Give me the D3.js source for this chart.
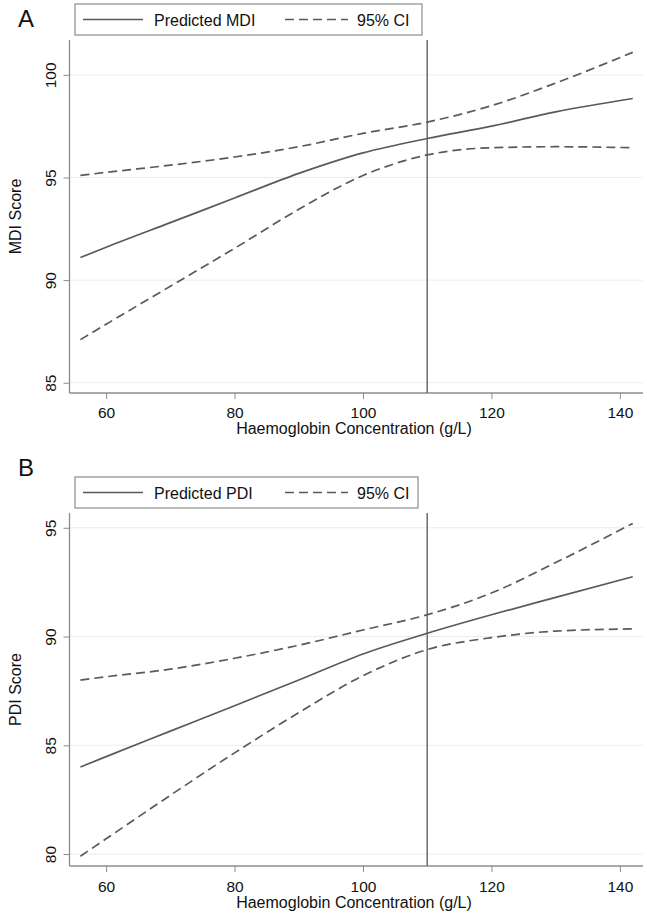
<!DOCTYPE html>
<html>
<head>
<meta charset="utf-8">
<script src="https://cdn.jsdelivr.net/npm/d3@7"></script>
<style>
  body { margin: 0; background: #fff; }
  svg { display: block; font-family: "Liberation Sans", Arial, Helvetica, sans-serif; }
</style>
</head>
<body>
<svg id="chart" width="647" height="915"></svg>
<script>
// ---- Data ----
const hb = [56, 60, 70, 80, 90, 100, 110, 120, 130, 142];

const mdiPred  = [91.1, 91.6, 92.8, 94.0, 95.2, 96.2, 96.9, 97.5, 98.2, 98.85];
const mdiUpper = [95.1, 95.25, 95.6, 96.0, 96.5, 97.15, 97.7, 98.5, 99.6, 101.1];
const mdiLower = [87.1, 87.85, 89.7, 91.55, 93.45, 95.1, 96.1, 96.45, 96.5, 96.45];

const pdiPred  = [84.0, 84.48, 85.65, 86.82, 88.0, 89.2, 90.15, 91.0, 91.8, 92.75];
const pdiUpper = [88.0, 88.15, 88.5, 89.0, 89.6, 90.3, 91.0, 92.0, 93.4, 95.2];
const pdiLower = [79.9, 80.7, 82.7, 84.65, 86.5, 88.2, 89.4, 89.95, 90.25, 90.35];

const xTicks = [60, 80, 100, 120, 140];
const mdiTicks = [85, 90, 95, 100];
const pdiTicks = [80, 85, 90, 95];
const cutoff = 110;

const xTitle = "Haemoglobin Concentration (g/L)";

// ---- Drawing ----
const svg = d3.select("#chart");
const lineColor = "#5a5a5a";
const axisColor = "#8c8c8c";
const tickFont = 15.5;
const labelFont = 16;

function panel(cfg) {
  const g = svg.append("g");
  const x = d3.scaleLinear().domain([54.3, 143.6]).range([69.5, 643]);
  const y = d3.scaleLinear().domain(cfg.yDomain).range([cfg.bottom, cfg.top]);

  // gridlines
  g.selectAll("line.grid").data(cfg.yTicks).join("line")
    .attr("x1", x.range()[0]).attr("x2", x.range()[1])
    .attr("y1", d => y(d)).attr("y2", d => y(d))
    .attr("stroke", "#ececec").attr("stroke-width", 1);

  // y axis
  const ya = g.append("g").attr("transform", `translate(${x.range()[0]},0)`)
    .call(d3.axisLeft(y).tickValues(cfg.yTicks).tickSize(6).tickPadding(4));
  ya.select(".domain").attr("stroke", axisColor).attr("stroke-width", 1.3)
    .attr("d", `M0,${cfg.top}V${cfg.bottom}`);
  ya.selectAll(".tick line").attr("stroke", axisColor);
  ya.selectAll(".tick text")
    .attr("transform", "rotate(-90)")
    .attr("x", 0).attr("y", -14)
    .attr("dy", "0")
    .attr("text-anchor", "middle")
    .attr("font-size", tickFont).attr("fill", "#111");

  // x axis
  const xa = g.append("g").attr("transform", `translate(0,${cfg.bottom})`)
    .call(d3.axisBottom(x).tickValues(xTicks).tickSize(6).tickPadding(5));
  xa.select(".domain").attr("stroke", axisColor).attr("stroke-width", 1.3)
    .attr("d", `M${x.range()[0]},0H${x.range()[1]}`);
  xa.selectAll(".tick line").attr("stroke", axisColor);
  xa.selectAll(".tick text").attr("font-size", tickFont).attr("fill", "#111")
    .attr("y", null).attr("dy", null).attr("y", cfg.tickBase);

  // axis titles
  g.append("text").attr("x", 354).attr("y", cfg.bottom + cfg.titleBase)
    .attr("text-anchor", "middle").attr("font-size", labelFont).attr("fill", "#111")
    .text(xTitle);
  g.append("text")
    .attr("transform", `translate(15,${(cfg.top + cfg.bottom) / 2}) rotate(-90)`)
    .attr("text-anchor", "middle").attr("dy", "0.35em")
    .attr("font-size", labelFont).attr("fill", "#111")
    .text(cfg.yTitle);

  // vertical cutoff line
  g.append("line").attr("x1", x(cutoff)).attr("x2", x(cutoff))
    .attr("y1", cfg.top).attr("y2", cfg.bottom)
    .attr("stroke", "#6e6e6e").attr("stroke-width", 1.5);

  const line = d3.line().x((d, i) => x(hb[i])).y(d => y(d)).curve(d3.curveMonotoneX);

  [cfg.upper, cfg.lower].forEach(s => {
    g.append("path").attr("d", line(s)).attr("fill", "none")
      .attr("stroke", lineColor).attr("stroke-width", 1.7)
      .attr("stroke-dasharray", "9,5");
  });
  g.append("path").attr("d", line(cfg.pred)).attr("fill", "none")
    .attr("stroke", lineColor).attr("stroke-width", 1.7);

  // panel letter
  g.append("text").attr("x", 18).attr("y", cfg.letterBase)
    .attr("font-size", 24).attr("fill", "#111").text(cfg.letter);

  // legend
  const lg = g.append("g").attr("transform", `translate(75,${cfg.legTop})`);
  lg.append("rect").attr("x", 0).attr("y", 0).attr("width", cfg.legW).attr("height", 31)
    .attr("fill", "#fff").attr("stroke", axisColor).attr("stroke-width", 1.2);
  lg.append("line").attr("x1", 8).attr("x2", 68).attr("y1", 15.5).attr("y2", 15.5)
    .attr("stroke", lineColor).attr("stroke-width", 1.7);
  lg.append("text").attr("x", 79).attr("y", 21.5).attr("font-size", labelFont).attr("fill", "#111")
    .text(cfg.predLabel);
  lg.append("line").attr("x1", 210).attr("x2", 273).attr("y1", 15.5).attr("y2", 15.5)
    .attr("stroke", lineColor).attr("stroke-width", 1.7).attr("stroke-dasharray", "9,5");
  lg.append("text").attr("x", 282).attr("y", 21.5).attr("font-size", labelFont).attr("fill", "#111")
    .text("95% CI");
}

panel({
  letter: "A", letterBase: 27, legTop: 4, legW: 347, top: 40, bottom: 393,
  tickBase: 25, titleBase: 41,
  yDomain: [84.5, 101.7], yTicks: mdiTicks, yTitle: "MDI Score",
  pred: mdiPred, upper: mdiUpper, lower: mdiLower, predLabel: "Predicted MDI"
});
panel({
  letter: "B", letterBase: 476, legTop: 477, legW: 343, top: 513, bottom: 866,
  tickBase: 26, titleBase: 42,
  yDomain: [79.45, 95.68], yTicks: pdiTicks, yTitle: "PDI Score",
  pred: pdiPred, upper: pdiUpper, lower: pdiLower, predLabel: "Predicted PDI"
});
</script>
</body>
</html>
